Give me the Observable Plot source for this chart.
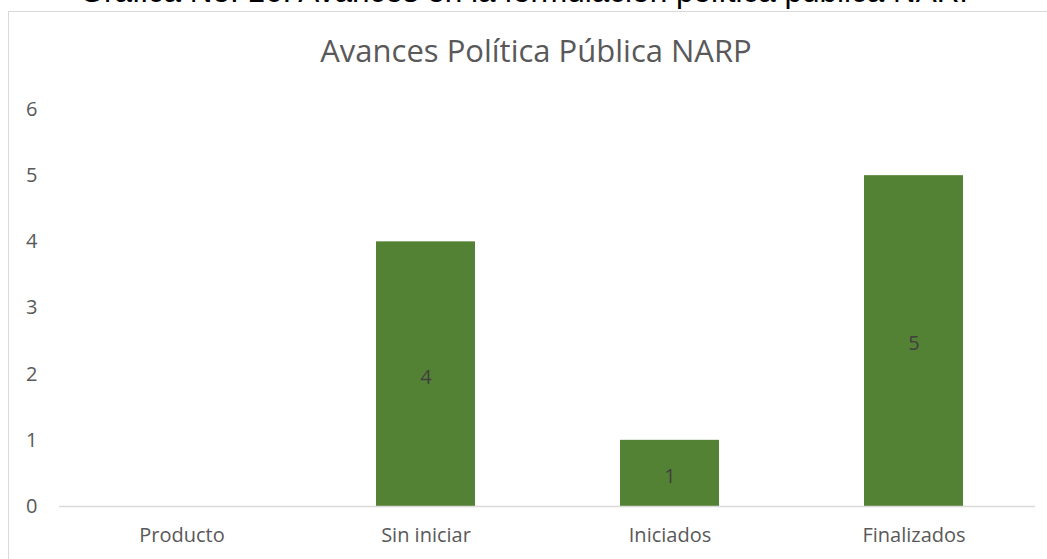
<!DOCTYPE html>
<html>
<head>
<meta charset="utf-8">
<script src="https://cdn.jsdelivr.net/npm/d3@7"></script>
<script src="https://cdn.jsdelivr.net/npm/@observablehq/plot@0.6"></script>
<style>
  html, body { margin: 0; padding: 0; background: #fff; }
  #wrap { position: relative; width: 1047px; height: 559px; overflow: hidden; background: #fff; }
  #frame { position: absolute; left: 8px; top: 11px; width: 1200px; height: 700px; border: 1.5px solid #d9d9d9; box-sizing: border-box; }
  #caption { position: absolute; left: 0; width: 1060px; text-align: center; top: -27px; font-family: "Liberation Sans", Arial, sans-serif; font-size: 31.5px; line-height: 36px; color: #000; white-space: nowrap; }
  #title { position: absolute; left: 0; width: 1072px; text-align: center; top: 32px; font-family: "Open Sans", Lato, sans-serif; font-weight: 400; font-size: 31px; line-height: 36px; color: #595959; white-space: nowrap; }
  #chart { position: absolute; left: 0; top: 0; }
</style>
</head>
<body>
<div id="wrap">
  <div id="frame"></div>
  <div id="caption"></div>
  <div id="title"></div>
  <div id="chart"></div>
</div>
<script>
const captionText = "Grafica No. 16: Avances en la formulación política pública NARP";
const titleText = "Avances Política Pública NARP";
const categories = ["Producto", "Sin iniciar", "Iniciados", "Finalizados"];
const values = [0, 4, 1, 5];
const yTicks = [0, 1, 2, 3, 4, 5, 6];

document.getElementById("caption").textContent = captionText;
document.getElementById("title").textContent = titleText;

const data = categories.map((c, i) => ({cat: c, v: values[i]}));

const chart = Plot.plot({
  width: 1047,
  height: 559,
  marginLeft: 59,
  marginRight: 12,
  marginTop: 109,
  marginBottom: 53,
  style: {fontFamily: "'Open Sans', Lato, sans-serif", fontSize: "20px", color: "#595959", background: "transparent"},
  x: {domain: categories, paddingInner: 0.595, paddingOuter: 0.2975, align: 0.5},
  y: {domain: [0, 6]},
  marks: [
    Plot.axisY({ticks: yTicks, tickSize: 0, tickPadding: 22, label: null, tickFormat: d => String(d)}),
    Plot.axisX({tickSize: 0, tickPadding: 21, label: null}),
    Plot.barY(data, {x: "cat", y: "v", fill: "#548235"}),
    Plot.ruleY([0], {stroke: "#d9d9d9", strokeWidth: 1.5}),
    Plot.text(data.filter(d => d.v > 0), {x: "cat", y: d => d.v / 2, dy: 3, text: d => String(d.v), fill: "#404040", fontSize: 20})
  ]
});
document.getElementById("chart").appendChild(chart);
</script>
</body>
</html>
